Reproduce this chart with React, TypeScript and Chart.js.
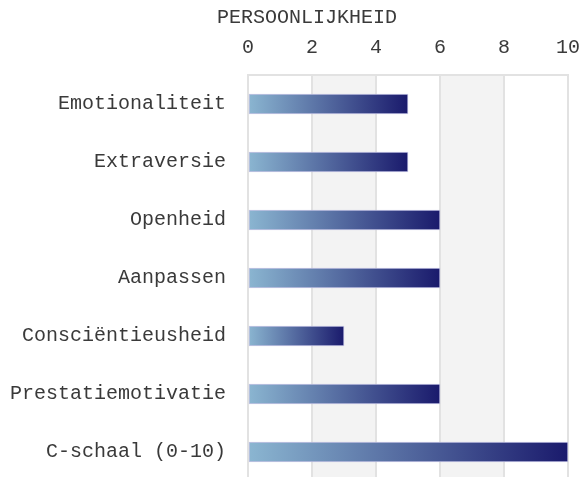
import React, { useEffect, useRef } from "react";
import { Chart, registerables } from "chart.js";

Chart.register(...registerables);

const categories = [
  "Emotionaliteit",
  "Extraversie",
  "Openheid",
  "Aanpassen",
  "Consciëntieusheid",
  "Prestatiemotivatie",
  "C-schaal (0-10)",
];
const scores = [5, 5, 6, 6, 3, 6, 10];
const axisTitle = "PERSOONLIJKHEID";
const xMin = 0;
const xMax = 10;
const xStep = 2;
const bands: [number, number][] = [
  [2, 4],
  [6, 8],
];

const FONT = "'Liberation Mono', 'DejaVu Sans Mono', monospace";
const TEXT = "#3a3a3a";
const GRID = "#e2e2e2";
const BAND = "#f3f3f3";
const GRAD_START = "#8bb6d1";
const GRAD_END = "#1a1a6c";

const bandPlugin = {
  id: "bands",
  beforeDraw(chart: any) {
    const { ctx, chartArea, scales } = chart;
    const x = scales.x;
    if (!x || !chartArea) return;
    ctx.save();
    ctx.fillStyle = BAND;
    bands.forEach(([a, b]) => {
      const p0 = x.getPixelForValue(a);
      const p1 = x.getPixelForValue(b);
      ctx.fillRect(p0, chartArea.top, p1 - p0, chartArea.bottom - chartArea.top);
    });
    ctx.restore();
  },
};

export default function App() {
  const ref = useRef<HTMLCanvasElement | null>(null);

  useEffect(() => {
    if (!ref.current) return;
    const chart = new Chart(ref.current, {
      type: "bar",
      data: {
        labels: categories,
        datasets: [
          {
            data: scores,
            barThickness: 20,
            borderWidth: 1,
            borderColor: "rgba(190,190,225,0.9)",
            borderSkipped: false,
            backgroundColor: (c: any) => {
              const ch = c.chart;
              const x = ch.scales && ch.scales.x;
              if (!x || c.type !== "data") return GRAD_END;
              const x0 = x.getPixelForValue(0);
              const x1 = x.getPixelForValue(c.raw);
              if (!isFinite(x0) || !isFinite(x1) || x1 === x0) return GRAD_END;
              const g = ch.ctx.createLinearGradient(x0, 0, x1, 0);
              g.addColorStop(0, GRAD_START);
              g.addColorStop(1, GRAD_END);
              return g;
            },
          },
        ],
      },
      options: {
        indexAxis: "y",
        responsive: false,
        animation: false,
        events: [],
        layout: { padding: { left: 10, top: 0, right: 0, bottom: 0 } },
        plugins: {
          legend: { display: false },
          tooltip: { enabled: false },
          title: {
            display: true,
            text: "  " + axisTitle,
            align: "center",
            color: TEXT,
            font: { family: FONT, size: 20, weight: "normal", lineHeight: 1 },
            padding: { top: 8, bottom: 10 },
          },
        },
        scales: {
          x: {
            position: "top",
            min: xMin,
            max: xMax,
            ticks: {
              stepSize: xStep,
              padding: 0,
              color: TEXT,
              font: { family: FONT, size: 20, lineHeight: 1 },
            },
            grid: {
              color: GRID,
              lineWidth: 2,
              drawTicks: true,
              tickLength: 17,
              tickColor: "rgba(0,0,0,0)",
            },
            border: { display: true, color: GRID, width: 2 },
          },
          y: {
            ticks: {
              padding: 0,
              color: TEXT,
              font: { family: FONT, size: 20, lineHeight: 1 },
            },
            grid: {
              display: true,
              drawOnChartArea: false,
              drawTicks: true,
              tickLength: 22,
              tickColor: "rgba(0,0,0,0)",
              color: "rgba(0,0,0,0)",
            },
            border: { display: false },
          },
        },
      },
      plugins: [bandPlugin],
    });
    return () => chart.destroy();
  }, []);

  return (
    <div
      style={{
        position: "fixed",
        left: 0,
        top: 0,
        width: 579,
        height: 477,
        overflow: "hidden",
        background: "#ffffff",
      }}
    >
      <canvas ref={ref} width={580} height={491} style={{ display: "block" }} />
    </div>
  );
}
